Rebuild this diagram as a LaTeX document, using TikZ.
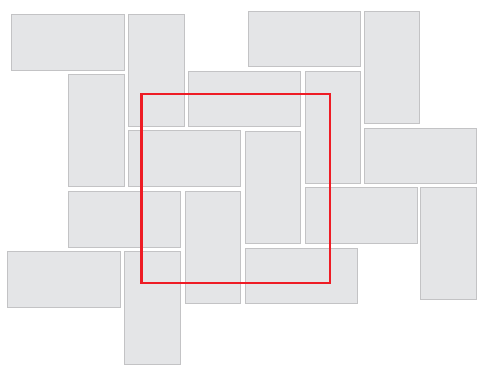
\documentclass[tikz,border=0pt]{standalone}
\usepackage{tikz}

\definecolor{tilefill}{HTML}{E4E5E7}
\definecolor{tileline}{HTML}{C3C3C5}
\definecolor{framered}{HTML}{EE1C25}

\begin{document}
\begin{tikzpicture}[x=1pt, y=-1pt,
    tile/.style={fill=tilefill, draw=tileline, line width=1pt},
    frame/.style={draw=framered, line width=2.2pt}]
    \useasboundingbox (0,0) rectangle (477,365);
    % Tiles
    \foreach \xa/\ya/\xb/\yb in {
        11/14/124/70, 128/14/184/126, 248/11/360/66, 364/11/419/123,
        68/74/124/186, 188/71/300/126, 305/71/360/183,
        128/130/240/186, 245/131/300/243, 364/128/476/183,
        68/191/180/247, 185/191/240/303, 305/187/417/243, 420/187/476/299,
        7/251/120/307, 124/251/180/364, 245/248/357/303}
        \draw[tile] (\xa,\ya) rectangle (\xb,\yb);
    % Frame
    \draw[frame] (141.5,94.3) rectangle (330.3,283.3);
\end{tikzpicture}
\end{document}
